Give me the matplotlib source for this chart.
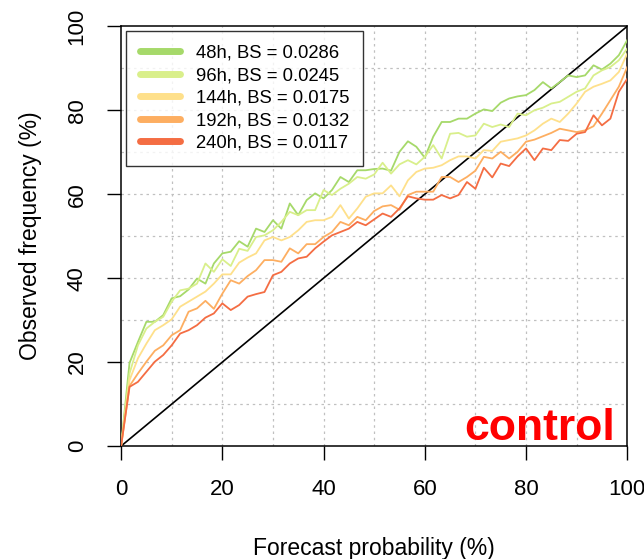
import numpy as np
import matplotlib
matplotlib.use("Agg")
import matplotlib.pyplot as plt

plt.rcParams['font.family'] = ['Liberation Sans', 'DejaVu Sans']

# Forecast probability bins (%)
prob = np.linspace(0, 100, 61)

# Observed frequency (%) per lead time
obs_48 = [0, 19.8, 24.8, 29.6, 29.6, 31.2, 35.2, 35.7, 37.3, 39.9, 38.7, 43.5, 45.9, 46.3, 48.8,
          47.5, 51.8, 51.0, 53.8, 51.8, 57.8, 55.0, 58.6, 60.2, 59.0, 61.0, 64.1, 62.9, 65.7, 65.7,
          66.0, 66.1, 65.6, 70.1, 72.6, 71.3, 68.7, 73.7, 77.2, 77.2, 78.0, 78.0, 79.2, 80.2, 79.8,
          81.8, 82.8, 83.3, 83.6, 84.8, 86.7, 85.2, 86.7, 88.3, 87.9, 88.3, 90.7, 89.7, 91.1, 93.1, 96.7]
obs_96 = [0, 17.3, 24.0, 28.0, 29.6, 30.8, 34.4, 37.1, 37.5, 38.7, 43.5, 41.5, 44.5, 42.9, 47.0,
          46.5, 49.8, 50.2, 51.4, 53.4, 55.8, 55.0, 56.2, 56.2, 61.0, 59.8, 61.3, 62.5, 64.1, 63.7,
          64.7, 67.5, 64.9, 67.1, 68.1, 67.1, 68.9, 71.7, 68.5, 74.4, 74.6, 73.7, 74.0, 76.8, 76.0,
          76.6, 76.0, 79.2, 78.8, 80.0, 80.6, 81.6, 82.0, 83.2, 84.4, 85.2, 88.3, 89.5, 90.3, 91.9, 94.7]
obs_144 = [0, 15.7, 20.9, 24.4, 27.6, 28.8, 30.2, 33.2, 34.4, 35.6, 36.8, 38.7, 40.9, 40.9, 43.7,
           44.9, 45.9, 49.0, 49.8, 49.0, 49.8, 51.4, 53.4, 53.8, 53.8, 54.6, 57.4, 54.2, 56.6, 59.4,
           60.2, 60.2, 62.1, 59.5, 63.3, 65.3, 66.1, 66.3, 66.9, 68.1, 69.0, 69.0, 68.5, 70.5, 70.3,
           72.5, 72.9, 73.3, 74.0, 75.2, 76.8, 78.0, 77.2, 79.2, 81.6, 84.4, 85.6, 86.3, 87.1, 89.1, 93.5]
obs_192 = [0, 14.3, 17.3, 20.1, 22.7, 24.0, 26.4, 27.6, 32.0, 32.8, 34.6, 32.7, 36.3, 39.5, 38.7,
           40.5, 41.9, 44.3, 44.3, 43.9, 47.1, 45.9, 48.1, 48.1, 49.8, 51.0, 53.4, 52.6, 54.6, 53.8,
           56.0, 57.1, 57.4, 56.3, 59.8, 60.6, 60.6, 60.6, 64.1, 64.1, 62.9, 64.1, 65.6, 68.9, 68.5,
           70.1, 68.5, 70.1, 72.5, 73.0, 73.8, 74.6, 75.6, 75.2, 74.8, 75.2, 76.2, 79.2, 82.4, 85.6, 90.3]
obs_240 = [0, 14.1, 15.3, 17.7, 20.1, 21.7, 24.0, 26.8, 27.6, 28.8, 30.6, 31.6, 34.0, 32.4, 33.6,
           35.6, 36.2, 36.7, 40.7, 41.5, 43.5, 44.7, 45.1, 47.1, 48.7, 50.2, 51.0, 51.8, 53.4, 52.6,
           54.0, 55.4, 54.6, 56.6, 59.5, 59.0, 58.7, 58.7, 59.8, 59.0, 59.8, 62.9, 61.3, 66.3, 64.0,
           67.3, 66.7, 69.0, 70.9, 68.1, 70.9, 70.5, 72.9, 72.7, 74.4, 74.8, 78.8, 76.4, 78.0, 84.4, 87.5]

labels = ["48h, BS = 0.0286", "96h, BS = 0.0245", "144h, BS = 0.0175",
          "192h, BS = 0.0132", "240h, BS = 0.0117"]
colors = ["#A6D96A", "#D9EF8B", "#FEE08B", "#FDAE61", "#F46D43"]
series = [obs_48, obs_96, obs_144, obs_192, obs_240]

fig = plt.figure(figsize=(6.44, 5.59), dpi=100)
ax = fig.add_axes([0.188, 0.202, 0.786, 0.751])

# dotted grid every 10%
for g in range(10, 100, 10):
    ax.axvline(g, color="#C0C0C0", ls=(0, (2, 3)), lw=0.9, zorder=0)
    ax.axhline(g, color="#C0C0C0", ls=(0, (2, 3)), lw=0.9, zorder=0)

ax.plot([0, 100], [0, 100], color="black", lw=1.2, zorder=2)

handles = []
for ys, c, lab in zip(series, colors, labels):
    ax.plot(prob, ys, color=c, lw=1.3, zorder=3)
    h, = ax.plot([], [], color=c, lw=5, solid_capstyle="round", label=lab)
    handles.append(h)

ax.set_xlim(0, 100)
ax.set_ylim(0, 100)
ax.set_xticks(range(0, 101, 20))
ax.set_yticks(range(0, 101, 20))
ax.tick_params(direction="out", length=10, width=1, labelsize=16)
ax.tick_params(axis="x", pad=14)
ax.tick_params(axis="y", pad=14)
for lbl in ax.get_yticklabels():
    lbl.set_rotation(90)
    lbl.set_va("center")
for sp in ax.spines.values():
    sp.set_linewidth(1.1)

ax.set_xlabel("Forecast probability (%)", fontsize=16.5, labelpad=26)
ax.set_ylabel("Observed frequency (%)", fontsize=16.5, labelpad=18)

leg = ax.legend(handles=handles, loc="upper left", fontsize=13.3, frameon=True,
                fancybox=False, edgecolor="black", handlelength=2.2,
                labelspacing=0.3, borderpad=0.75, handletextpad=0.85,
                borderaxespad=0.25, bbox_to_anchor=(0, 1))
leg.get_frame().set_linewidth(1.0)

ax.text(0.976, 0.015, "control", transform=ax.transAxes, ha="right", va="baseline",
        color="red", fontsize=32, fontweight="bold")

fig.savefig("out.png", dpi=100)
